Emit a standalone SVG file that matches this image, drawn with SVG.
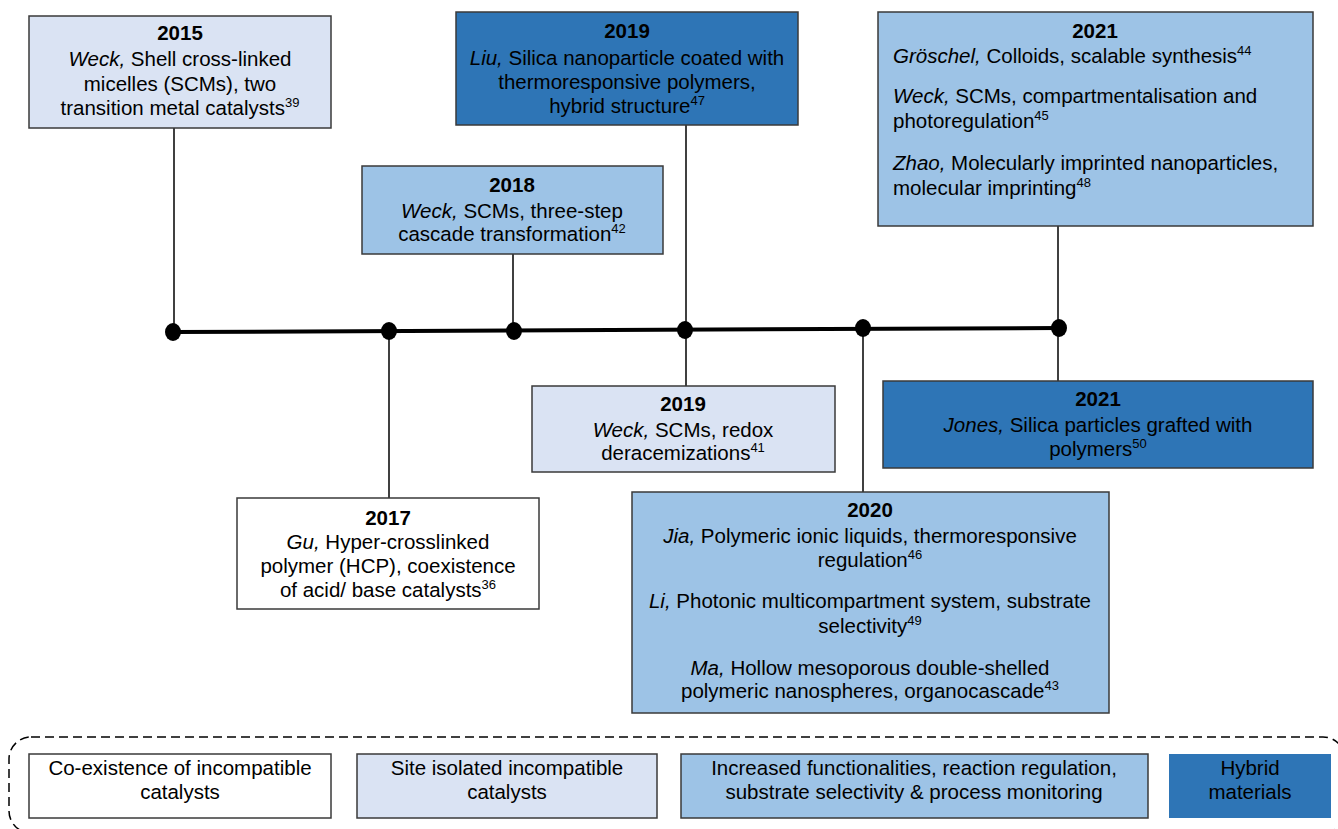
<svg xmlns="http://www.w3.org/2000/svg" width="1338" height="829" viewBox="0 0 1338 829">
<style>
text{font-family:"Liberation Sans",Arial,sans-serif;font-size:20.5px;fill:#000}
.c{text-anchor:middle}
.y{font-weight:bold}
.i{font-style:italic}
.s{font-size:13px}
.b{stroke:#3a3a3a;stroke-width:1.5}
.l1{fill:#dae3f3}.l2{fill:#9dc3e6}.l3{fill:#2e75b6}.l0{fill:#fff}
.con{stroke:#000;stroke-width:1.5;fill:none}
</style>
<rect width="1338" height="829" fill="#fff"/>
<g id="connectors">
<line class="con" x1="174" y1="128" x2="174" y2="332"/>
<line class="con" x1="686" y1="125" x2="686" y2="386"/>
<line class="con" x1="1058" y1="226" x2="1058" y2="381"/>
<line class="con" x1="513" y1="254" x2="513" y2="332"/>
<line class="con" x1="389" y1="331" x2="389" y2="498"/>
<line class="con" x1="863" y1="328" x2="863" y2="492"/>
<line x1="173" y1="332" x2="1060" y2="328" stroke="#000" stroke-width="4"/>
<ellipse cx="173" cy="332" rx="8" ry="9"/>
<ellipse cx="389" cy="331" rx="8" ry="9"/>
<ellipse cx="514" cy="331" rx="8" ry="9"/>
<ellipse cx="685" cy="330" rx="8" ry="9"/>
<ellipse cx="863" cy="328" rx="8" ry="9"/>
<ellipse cx="1059" cy="328" rx="8" ry="9"/>
</g>
<g id="n2015">
<rect class="b l1" x="29" y="16" width="302" height="112"/>
<text class="c y" x="180" y="40">2015</text>
<text class="c" x="180" y="66"><tspan class="i">Weck,</tspan> Shell cross-linked</text>
<text class="c" x="180" y="91">micelles (SCMs), two</text>
<text class="c" x="180" y="115">transition metal catalysts<tspan class="s" dy="-8">39</tspan></text>
</g>
<g id="n2019top">
<rect class="b l3" x="456" y="12" width="342" height="113"/>
<text class="c y" x="627" y="38">2019</text>
<text class="c" x="627" y="65"><tspan class="i">Liu,</tspan> Silica nanoparticle coated with</text>
<text class="c" x="627" y="89">thermoresponsive polymers,</text>
<text class="c" x="627" y="113">hybrid structure<tspan class="s" dy="-8">47</tspan></text>
</g>
<g id="n2021top">
<rect class="b l2" x="878" y="12" width="435" height="214"/>
<text class="c y" x="1095" y="38">2021</text>
<text x="893" y="63"><tspan class="i">Gröschel,</tspan> Colloids, scalable synthesis<tspan class="s" dy="-8">44</tspan></text>
<text x="893" y="103"><tspan class="i">Weck,</tspan> SCMs, compartmentalisation and</text>
<text x="893" y="128">photoregulation<tspan class="s" dy="-8">45</tspan></text>
<text x="893" y="170"><tspan class="i">Zhao,</tspan> Molecularly imprinted nanoparticles,</text>
<text x="893" y="195">molecular imprinting<tspan class="s" dy="-8">48</tspan></text>
</g>
<g id="n2018">
<rect class="b l2" x="362" y="166" width="301" height="88"/>
<text class="c y" x="512" y="192">2018</text>
<text class="c" x="512" y="218"><tspan class="i">Weck,</tspan> SCMs, three-step</text>
<text class="c" x="512" y="241">cascade transformation<tspan class="s" dy="-8">42</tspan></text>
</g>
<g id="n2019bottom">
<rect class="b l1" x="532" y="386" width="303" height="86"/>
<text class="c y" x="683" y="411">2019</text>
<text class="c" x="683" y="437"><tspan class="i">Weck,</tspan> SCMs, redox</text>
<text class="c" x="683" y="460">deracemizations<tspan class="s" dy="-8">41</tspan></text>
</g>
<g id="n2021jones">
<rect class="b l3" x="883" y="381" width="430" height="87"/>
<text class="c y" x="1098" y="406">2021</text>
<text class="c" x="1098" y="432"><tspan class="i">Jones,</tspan> Silica particles grafted with</text>
<text class="c" x="1098" y="456">polymers<tspan class="s" dy="-8">50</tspan></text>
</g>
<g id="n2020">
<rect class="b l2" x="632" y="492" width="477" height="221"/>
<text class="c y" x="870" y="517">2020</text>
<text class="c" x="870" y="543"><tspan class="i">Jia,</tspan> Polymeric ionic liquids, thermoresponsive</text>
<text class="c" x="870" y="567">regulation<tspan class="s" dy="-8">46</tspan></text>
<text class="c" x="870" y="608"><tspan class="i">Li,</tspan> Photonic multicompartment system, substrate</text>
<text class="c" x="870" y="633">selectivity<tspan class="s" dy="-8">49</tspan></text>
<text class="c" x="870" y="675"><tspan class="i">Ma,</tspan> Hollow mesoporous double-shelled</text>
<text class="c" x="870" y="698">polymeric nanospheres, organocascade<tspan class="s" dy="-8">43</tspan></text>
</g>
<g id="n2017">
<rect class="b l0" x="237" y="498" width="302" height="111"/>
<text class="c y" x="388" y="525">2017</text>
<text class="c" x="388" y="549"><tspan class="i">Gu,</tspan> Hyper-crosslinked</text>
<text class="c" x="388" y="573">polymer (HCP), coexistence</text>
<text class="c" x="388" y="597">of acid/ base catalysts<tspan class="s" dy="-8">36</tspan></text>
</g>
<g id="legend">
<rect x="9" y="737" width="1336" height="96" rx="22" fill="none" stroke="#000" stroke-width="1.5" stroke-dasharray="9,5"/>
<g id="leg1">
<rect class="b l0" x="29" y="754" width="302" height="64"/>
<text class="c" x="180" y="775">Co-existence of incompatible</text>
<text class="c" x="180" y="799">catalysts</text>
</g>
<g id="leg2">
<rect class="b l1" x="357" y="754" width="300" height="64"/>
<text class="c" x="507" y="775">Site isolated incompatible</text>
<text class="c" x="507" y="799">catalysts</text>
</g>
<g id="leg3">
<rect class="b l2" x="681" y="754" width="467" height="64"/>
<text class="c" x="914" y="775">Increased functionalities, reaction regulation,</text>
<text class="c" x="914" y="799">substrate selectivity &amp; process monitoring</text>
</g>
<g id="leg4">
<rect class="l3" x="1169" y="754" width="162" height="64"/>
<text class="c" x="1250" y="775">Hybrid</text>
<text class="c" x="1250" y="799">materials</text>
</g>
</g>
</svg>
